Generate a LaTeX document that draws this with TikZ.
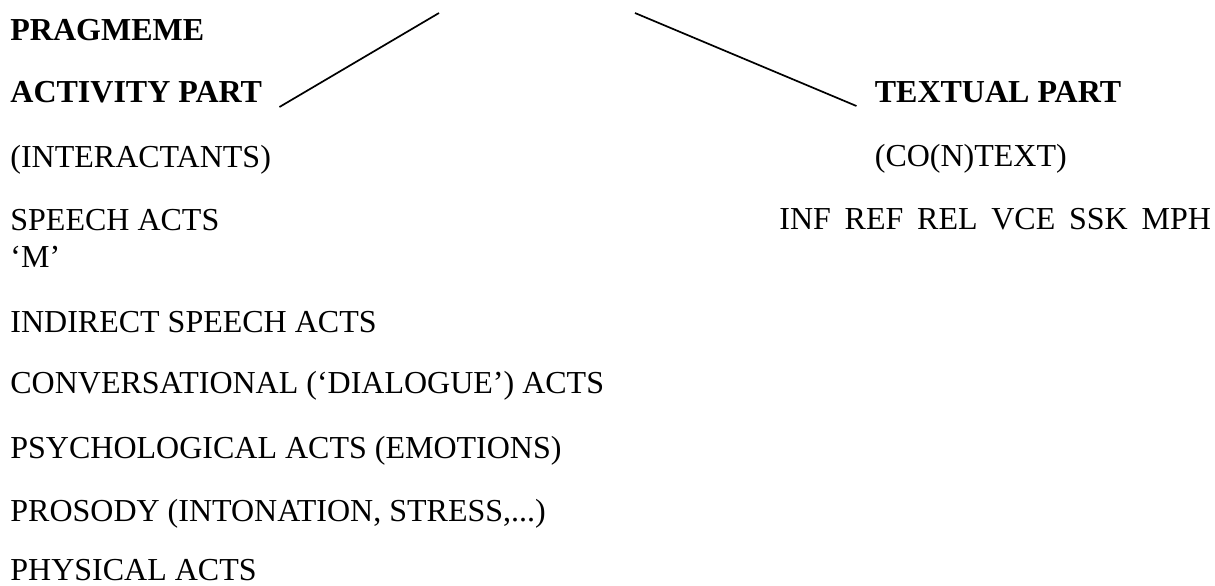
\documentclass[tikz,border=0pt]{standalone}
\usepackage{fontspec}
\setmainfont{Liberation Serif}
\usetikzlibrary{calc, positioning}
\tikzstyle{head} = [anchor=base west, inner sep=0pt, font=\fontsize{16pt}{18.5pt}\selectfont\bfseries]
\tikzstyle{item} = [anchor=base west, inner sep=0pt, font=\fontsize{16pt}{18.5pt}\selectfont]
\tikzstyle{line} = [line width=0.85pt,-]

\begin{document}
\begin{tikzpicture}[x=0.5pt, y=-0.5pt]
\useasboundingbox (0,0) rectangle (1215,585);

% Activity side
\node (pragmeme) [head] at (10,40) {PRAGMEME};
\node (activity) [below=31pt of pragmeme.base west, head] {ACTIVITY PART};
\node (interact) [below=32.5pt of activity.base west, item] {(INTERACTANTS)};
\node (speech) [below=31.5pt of interact.base west, item] {SPEECH ACTS};
\node (mAct) [below=18.5pt of speech.base west, item] {‘M’};
\node (indirect) [below=32.5pt of mAct.base west, item] {INDIRECT SPEECH ACTS};
\node (conv) [below=30.5pt of indirect.base west, item] {CONVERSATIONAL (‘DIALOGUE’) ACTS};
\node (psych) [below=32.5pt of conv.base west, item] {PSYCHOLOGICAL ACTS (EMOTIONS)};
\node (prosody) [below=31.5pt of psych.base west, item] {PROSODY (INTONATION, STRESS,...)};
\node (physical) [below=29.8pt of prosody.base west, item] {PHYSICAL ACTS};

% Textual side
\node (textual) [right=306pt of activity.base east, head] {TEXTUAL PART};
\node (context) [below=32pt of textual.base west, item] {(CO(N)TEXT)};
\node (codes) [below=31.5pt of context.base west, xshift=-47.7pt, item] {INF\hspace{.43em}REF\hspace{.43em}REL\hspace{.43em}VCE\hspace{.43em}SSK\hspace{.43em}MPH};

% connectors
\coordinate (actEnd) at ($(activity.base east)+(17,5)$);
\coordinate (txtEnd) at ($(textual.base west)+(-18,4)$);
\coordinate (topL) at (439,13);
\coordinate (topR) at (635,13);

\draw[line] (actEnd) -- (topL);
\draw[line] (topR) -- (txtEnd);

\end{tikzpicture}
\end{document}
